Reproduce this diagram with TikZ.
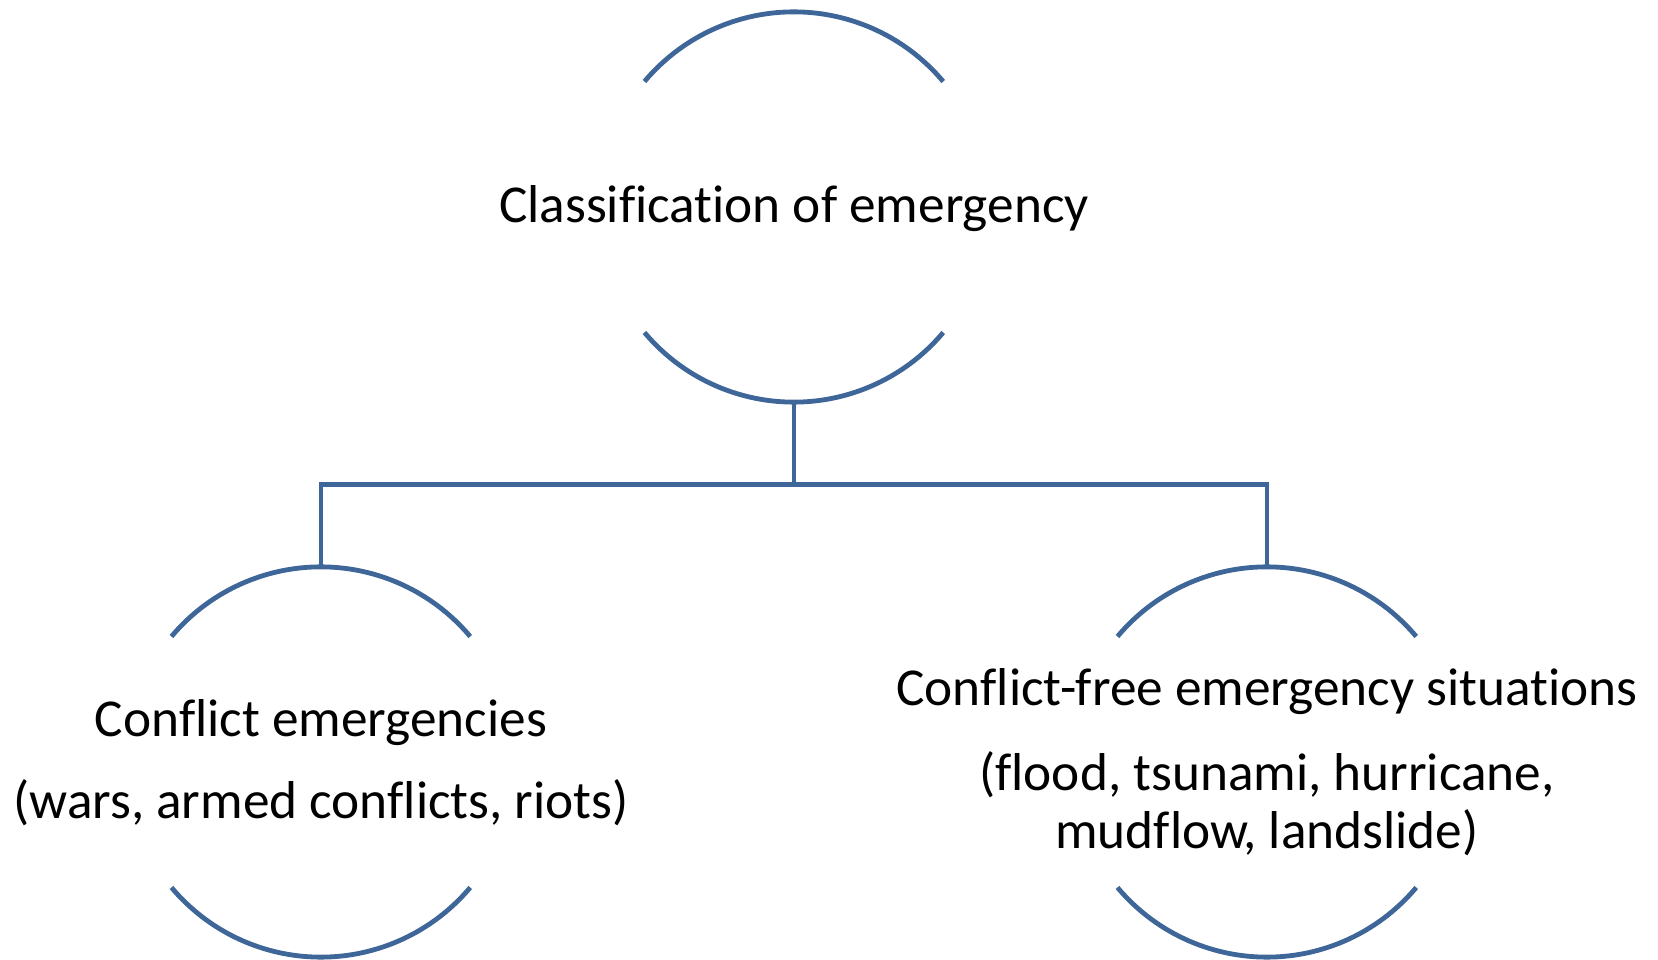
\documentclass[tikz,border=0pt]{standalone}
\usepackage{fontspec}
\setmainfont{Carlito}[Ligatures=CommonOff]
\definecolor{linec}{RGB}{62,102,152}
\begin{document}
\begin{tikzpicture}[x=1pt,y=1pt,
  ring/.style={circle,minimum size=390pt,inner sep=0pt,draw=none},
  conn/.style={draw=linec,line width=4.8pt},
  txt/.style={font=\fontsize{53.3}{58}\selectfont,anchor=base,inner sep=0pt}]
\useasboundingbox (0,0) rectangle (1658,959);
\node[ring] (top) at (794,752) {};
\node[ring] (left) at (321,197) {};
\node[ring] (right) at (1267,197) {};
\foreach \n in {top,left,right}{
  \draw[conn] (\n.140) arc[start angle=140,end angle=40,radius=195];
  \draw[conn] (\n.220) arc[start angle=220,end angle=320,radius=195];
}
\coordinate (bar) at ([yshift=-82pt]top.south);
\draw[conn] (top.south) -- (bar);
\draw[conn] (left.north) |- (bar) -| (right.north);
\node[txt] (t1) at (794,736) {Classification of emergency};
\node[txt] (l1) at (321,222) {Conflict emergencies};
\node[txt] (l2) at (321,140) {(wars, armed conflicts, riots)};
\node[txt] (r1) at (1267,253) {Conflict-free emergency situations};
\node[txt] (r2) at (1267,168) {(flood, tsunami, hurricane,};
\node[txt] (r3) at (1267,110) {mudflow, landslide)};
\end{tikzpicture}
\end{document}
